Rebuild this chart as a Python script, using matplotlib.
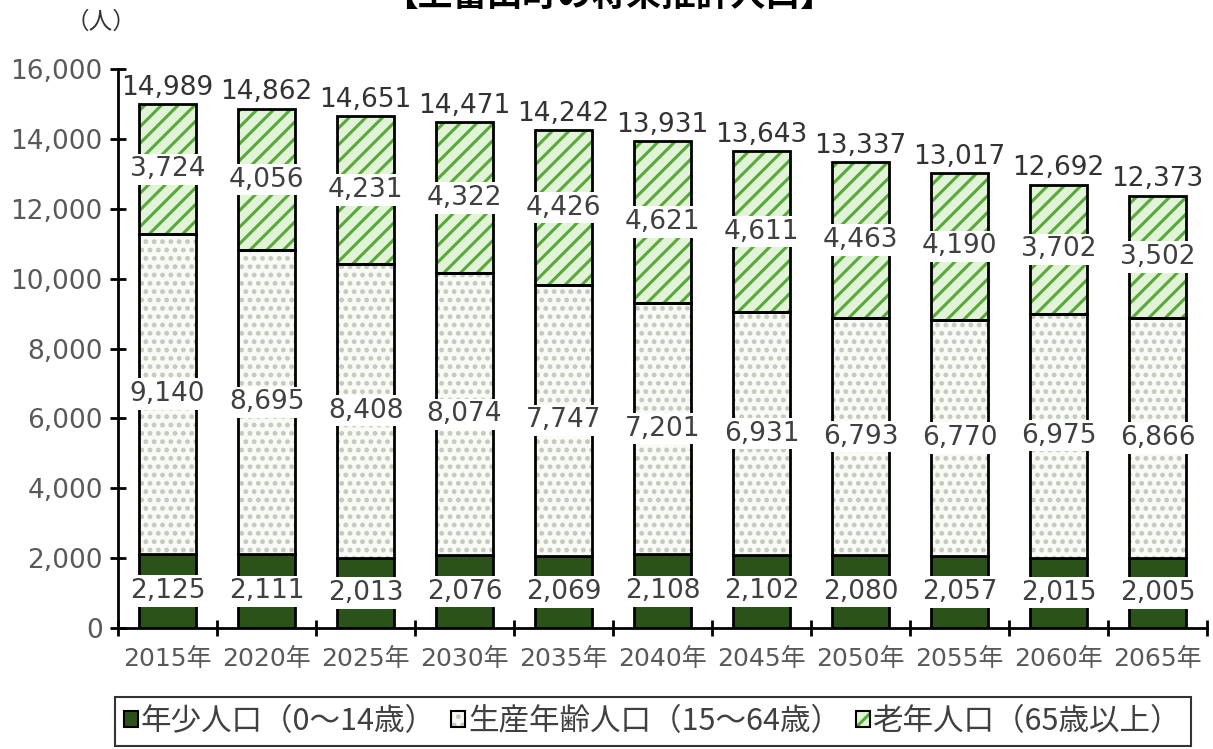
import matplotlib
matplotlib.use("Agg")
import matplotlib.pyplot as plt
from matplotlib.patches import Patch
from matplotlib.legend_handler import HandlerTuple
import numpy as np

plt.rcParams['font.family'] = ['DejaVu Sans', 'Noto Sans CJK JP']
plt.rcParams['hatch.linewidth'] = 2.2

years = ['2015年', '2020年', '2025年', '2030年', '2035年', '2040年',
         '2045年', '2050年', '2055年', '2060年', '2065年']
young = [2125, 2111, 2013, 2076, 2069, 2108, 2102, 2080, 2057, 2015, 2005]
working = [9140, 8695, 8408, 8074, 7747, 7201, 6931, 6793, 6770, 6975, 6866]
elderly = [3724, 4056, 4231, 4322, 4426, 4621, 4611, 4463, 4190, 3702, 3502]
totals = [14989, 14862, 14651, 14471, 14242, 13931, 13643, 13337, 13017, 12692, 12373]
series_names = ['年少人口（0～14歳）', '生産年齢人口（15～64歳）', '老年人口（65歳以上）']

c_young = '#2b5219'
c_work_face, c_work_hatch = '#f8faf5', '#c2c9bb'
c_old_face, c_old_hatch = '#e2f4d8', '#58a83a'
txt = '#404040'

fig = plt.figure(figsize=(12.13, 7.49), dpi=100)
ax = fig.add_axes([0.0973, 0.1615, 0.8977, 0.7464])

x = np.arange(len(years))
w = 0.58
young = np.array(young)
working = np.array(working)
elderly = np.array(elderly)

ax.bar(x, young, w, color=c_young, edgecolor='black', linewidth=2, zorder=2)
ax.bar(x, working, w, bottom=young, color=c_work_face, edgecolor=c_work_hatch,
       hatch='..', linewidth=0, zorder=2)
ax.bar(x, working, w, bottom=young, fill=False, edgecolor='black', linewidth=2, zorder=3)
ax.bar(x, elderly, w, bottom=young + working, color=c_old_face, edgecolor=c_old_hatch,
       hatch='//', linewidth=0, zorder=2)
ax.bar(x, elderly, w, bottom=young + working, fill=False, edgecolor='black', linewidth=2, zorder=3)

box = dict(boxstyle='square,pad=0.1', facecolor='white', edgecolor='none')
fs = 19
for i in range(len(years)):
    ax.text(x[i], young[i] / 2, f'{young[i]:,}', ha='center', va='center',
            fontsize=fs, color=txt, bbox=box, zorder=5)
    ax.text(x[i], young[i] + working[i] / 2, f'{working[i]:,}', ha='center', va='center',
            fontsize=fs, color=txt, bbox=box, zorder=5)
    ax.text(x[i], young[i] + working[i] + elderly[i] / 2, f'{elderly[i]:,}', ha='center',
            va='center', fontsize=fs, color=txt, bbox=box, zorder=5)
    ax.text(x[i], totals[i] + 100, f'{totals[i]:,}', ha='center', va='bottom',
            fontsize=fs, color='#333333', zorder=5)

ax.set_xlim(-0.5, len(years) - 0.5)
ax.set_ylim(0, 16000)
ax.set_yticks(np.arange(0, 16001, 2000))
ax.set_yticklabels([f'{v:,}' for v in range(0, 16001, 2000)], fontsize=19, color='#595959')
ax.set_xticks(np.arange(-0.5, len(years), 1.0))
ax.set_xticklabels([])
ax.set_xticks(x, minor=True)
ax.set_xticklabels(years, minor=True, fontsize=18, color='#595959')
ax.tick_params(axis='x', which='minor', length=0, pad=14)
ax.tick_params(axis='both', which='major', direction='inout', length=12, width=2, color='black')
ax.tick_params(axis='y', pad=5)
for s in ['top', 'right']:
    ax.spines[s].set_visible(False)
for s in ['left', 'bottom']:
    ax.spines[s].set_linewidth(2)

fig.text(0.054, 0.97, '（人）', fontsize=17, color='#333333', va='center',
         family='Noto Sans CJK JP')
fig.text(0.502, 1.006, '【上富田町の将来推計人口】', fontsize=25, fontweight='bold',
         ha='center', va='center', color='black', family='Noto Sans CJK JP')

h1 = Patch(facecolor=c_young, edgecolor='black', linewidth=1.5)
h2 = (Patch(facecolor=c_work_face, edgecolor=c_work_hatch, hatch='..', linewidth=0),
      Patch(fill=False, edgecolor='black', linewidth=1.5))
h3 = (Patch(facecolor=c_old_face, edgecolor=c_old_hatch, hatch='//', linewidth=0),
      Patch(fill=False, edgecolor='black', linewidth=1.5))
leg = fig.legend([h1, h2, h3], series_names, loc='upper left',
                 bbox_to_anchor=(115 / 1213, 1 - 697 / 749), borderaxespad=0,
                 ncol=3, prop={'family': ['Noto Sans CJK JP'], 'size': 22},
                 handler_map={tuple: HandlerTuple(ndivide=1, pad=0)},
                 handlelength=0.45, handleheight=0.45, handletextpad=0.1,
                 columnspacing=0.5, frameon=True, fancybox=False,
                 borderpad=0.3, labelcolor='#404040')
leg.get_frame().set_edgecolor('black')
leg.get_frame().set_linewidth(1.5)

fig.savefig('out.png', dpi=100)
